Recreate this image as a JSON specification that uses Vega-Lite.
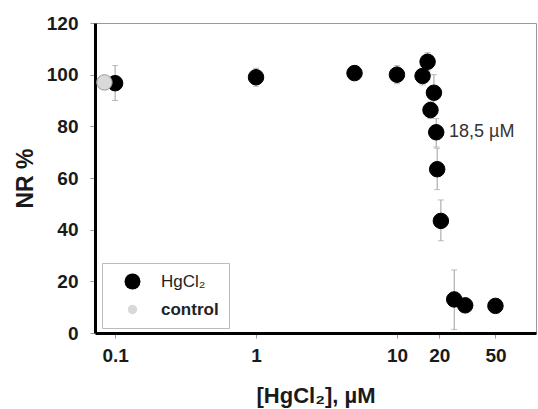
{
  "$schema": "https://vega.github.io/schema/vega-lite/v6.json",
  "width": 441,
  "height": 310,
  "autosize": {"type": "none"},
  "padding": {"left": 95, "top": 23, "right": 2, "bottom": 76},
  "background": "white",
  "config": {
    "view": {"stroke": "#9a9a9a", "strokeWidth": 1},
    "font": "Liberation Sans",
    "axis": {
      "labelFont": "Liberation Sans",
      "labelFontSize": 19,
      "labelFontWeight": "bold",
      "labelColor": "#1a1a1a",
      "tickColor": "#999999",
      "tickSize": 5,
      "domainColor": "black",
      "domainWidth": 3,
      "grid": false,
      "titleFont": "Liberation Sans",
      "titleFontWeight": "bold",
      "titleColor": "#1a1a1a"
    }
  },
  "datasets": {
    "pts": [
      {"conc": 0.1, "nr": 96.7, "lo": 90, "hi": 103.5, "series": "HgCl₂"},
      {"conc": 1, "nr": 99, "lo": 95.5, "hi": 102.5, "series": "HgCl₂"},
      {"conc": 5, "nr": 100.6, "lo": 99, "hi": 102, "series": "HgCl₂"},
      {"conc": 10, "nr": 100, "lo": 96.5, "hi": 103.5, "series": "HgCl₂"},
      {"conc": 15.2, "nr": 99.5, "lo": 96, "hi": 103, "series": "HgCl₂"},
      {"conc": 16.5, "nr": 105, "lo": 101.5, "hi": 108.5, "series": "HgCl₂"},
      {"conc": 17.3, "nr": 86.3, "lo": 83, "hi": 89.5, "series": "HgCl₂"},
      {"conc": 18.3, "nr": 93, "lo": 86, "hi": 100, "series": "HgCl₂"},
      {"conc": 19, "nr": 77.7, "lo": 72, "hi": 83, "series": "HgCl₂"},
      {"conc": 19.3, "nr": 63.4, "lo": 55.5, "hi": 71.5, "series": "HgCl₂"},
      {"conc": 20.5, "nr": 43.4, "lo": 35.7, "hi": 51.5, "series": "HgCl₂"},
      {"conc": 25.5, "nr": 13, "lo": 1.4, "hi": 24.4, "series": "HgCl₂"},
      {"conc": 30.5, "nr": 10.7, "lo": null, "hi": null, "series": "HgCl₂"},
      {"conc": 50, "nr": 10.5, "lo": null, "hi": null, "series": "HgCl₂"},
      {"conc": 0.084, "nr": 97, "lo": null, "hi": null, "series": "control"}
    ],
    "notes": [
      {"conc": 23.4, "nr": 78, "label": "18,5 µM"}
    ]
  },
  "layer": [
    {
      "mark": {"type": "rule", "color": "#cccccc", "strokeDash": [2, 3], "strokeWidth": 1},
      "encoding": {"y": {"datum": 100, "type": "quantitative", "scale": {"domain": [0, 120], "nice": false}}}
    },
    {
      "data": {"name": "pts"},
      "transform": [{"filter": "isValid(datum.lo)"}],
      "mark": {"type": "rule", "color": "#9f9f9f", "strokeWidth": 1},
      "encoding": {
        "x": {"field": "conc", "type": "quantitative"},
        "y": {"field": "lo", "type": "quantitative"},
        "y2": {"field": "hi"}
      }
    },
    {
      "data": {"name": "pts"},
      "transform": [{"filter": "isValid(datum.lo)"}],
      "mark": {"type": "tick", "orient": "horizontal", "color": "#9f9f9f", "size": 6, "thickness": 1},
      "encoding": {
        "x": {"field": "conc", "type": "quantitative"},
        "y": {"field": "lo", "type": "quantitative"}
      }
    },
    {
      "data": {"name": "pts"},
      "transform": [{"filter": "isValid(datum.hi)"}],
      "mark": {"type": "tick", "orient": "horizontal", "color": "#9f9f9f", "size": 6, "thickness": 1},
      "encoding": {
        "x": {"field": "conc", "type": "quantitative"},
        "y": {"field": "hi", "type": "quantitative"}
      }
    },
    {
      "data": {"name": "pts"},
      "mark": {"type": "point", "shape": "circle", "filled": true, "opacity": 0},
      "encoding": {
        "x": {"field": "conc", "type": "quantitative"},
        "y": {"field": "nr", "type": "quantitative"},
        "color": {
          "field": "series",
          "type": "nominal",
          "scale": {"domain": ["HgCl₂", "control"], "range": ["#000000", "#d9d9d9"]},
          "legend": {
            "orient": "none",
            "legendX": 7,
            "legendY": 240,
            "title": null,
            "fillColor": "white",
            "strokeColor": "#bbbbbb",
            "padding": 10,
            "symbolOffset": 12,
            "labelOffset": 20,
            "labelFont": "Liberation Sans",
            "labelFontSize": 17,
            "labelColor": "#222222",
            "labelFontWeight": {"expr": "datum.value === 'control' ? 'bold' : 'normal'"},
            "rowPadding": 8,
            "symbolType": "circle",
            "symbolOpacity": 1,
            "symbolStrokeColor": "#999999",
            "symbolStrokeWidth": 1
          }
        },
        "size": {
          "field": "series",
          "type": "nominal",
          "scale": {"domain": ["HgCl₂", "control"], "range": [256, 90]},
          "legend": {
            "orient": "none",
            "legendX": 7,
            "legendY": 240,
            "title": null,
            "fillColor": "white",
            "strokeColor": "#bbbbbb",
            "padding": 10,
            "symbolOffset": 12,
            "labelOffset": 20,
            "labelFont": "Liberation Sans",
            "labelFontSize": 17,
            "labelColor": "#222222",
            "labelFontWeight": {"expr": "datum.value === 'control' ? 'bold' : 'normal'"},
            "rowPadding": 8,
            "symbolType": "circle",
            "symbolOpacity": 1,
            "symbolStrokeColor": "#999999",
            "symbolStrokeWidth": 1
          }
        }
      }
    },
    {
      "data": {"name": "pts"},
      "mark": {"type": "point", "shape": "circle", "filled": true, "opacity": 1, "size": 240},
      "encoding": {
        "x": {
          "field": "conc",
          "type": "quantitative",
          "scale": {"type": "log", "domain": [0.072, 97], "nice": false},
          "axis": {
            "values": [0.1, 1, 10, 20, 50],
            "format": "~g",
            "labelPadding": 8,
            "title": "[HgCl₂], µM",
            "titleFontSize": 22,
            "titlePadding": 20
          }
        },
        "y": {
          "field": "nr",
          "type": "quantitative",
          "scale": {"domain": [0, 120], "nice": false},
          "axis": {
            "values": [0, 20, 40, 60, 80, 100, 120],
            "labelPadding": 12,
            "title": "NR %",
            "titleFontSize": 23,
            "titlePadding": 9
          }
        },
        "color": {
          "field": "series",
          "type": "nominal",
          "legend": null
        },
        "stroke": {
          "condition": {"test": "datum.series === 'control'", "value": "#999999"},
          "value": "#000000"
        },
        "strokeWidth": {"value": 1}
      }
    },
    {
      "data": {"name": "notes"},
      "mark": {"type": "text", "align": "left", "baseline": "middle", "fontSize": 18, "color": "#333333", "font": "Liberation Sans"},
      "encoding": {
        "x": {"field": "conc", "type": "quantitative"},
        "y": {"field": "nr", "type": "quantitative"},
        "text": {"field": "label"}
      }
    },
    {
      "mark": {"type": "rule", "color": "black", "strokeWidth": 3},
      "encoding": {"y": {"datum": 120, "type": "quantitative"}}
    }
  ]
}
